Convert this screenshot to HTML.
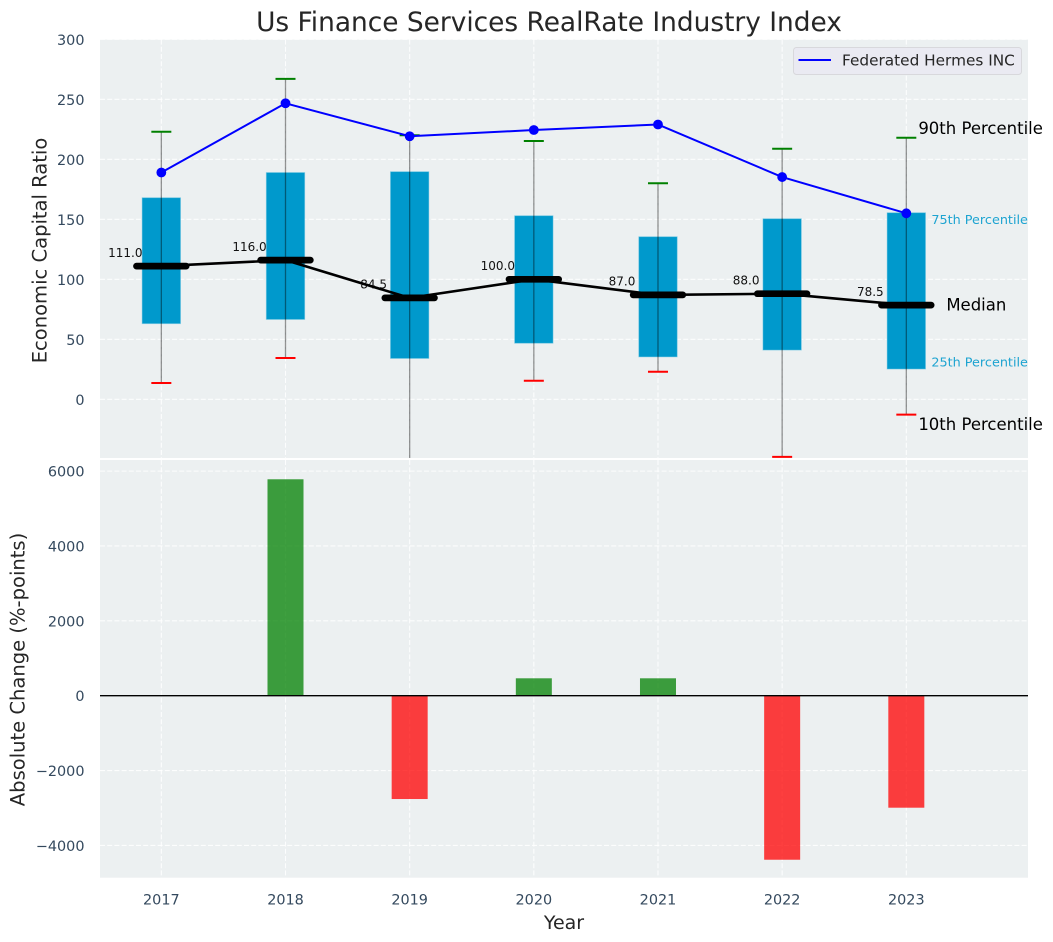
<!DOCTYPE html>
<html lang="en">
<head>
<meta charset="utf-8">
<title>Us Finance Services RealRate Industry Index</title>
<style>
html,body{margin:0;padding:0;background:#fff;}
#chart{display:block;width:1053px;height:942px;font-family:"DejaVu Sans","Liberation Sans",sans-serif;}
</style>
</head>
<body>
<svg id="chart" xmlns="http://www.w3.org/2000/svg" width="1053" height="942" viewBox="0 0 1053 942">
  <defs>
    <clipPath id="top-clip"><rect x="100" y="39.6" width="928" height="418.4"/></clipPath>
    <clipPath id="bottom-clip"><rect x="100" y="460" width="928" height="417.7"/></clipPath>
  </defs>
  <rect x="0" y="0" width="1053" height="942" fill="#ffffff"/>
  <rect x="100" y="39.6" width="928" height="418.4" fill="#ecf0f1"/>
  <rect x="100" y="460" width="928" height="417.7" fill="#ecf0f1"/>
  <g id="grid-layer"></g>
  <g id="top-layer" clip-path="url(#top-clip)"></g>
  <g id="bottom-layer" clip-path="url(#bottom-clip)"></g>
  <g id="tick-layer"></g>
  <g id="annotation-layer"></g>
  <text x="549" y="31" text-anchor="middle" font-size="26.4" fill="#262626">Us Finance Services RealRate Industry Index</text>
  <text transform="translate(46.5,250.5) rotate(-90)" text-anchor="middle" font-size="19.55" fill="#262626">Economic Capital Ratio</text>
  <text transform="translate(24.5,669.5) rotate(-90)" text-anchor="middle" font-size="19.55" fill="#262626">Absolute Change (%-points)</text>
  <text x="564" y="929" text-anchor="middle" font-size="19" fill="#262626">Year</text>
  <g>
    <rect x="793.5" y="47.5" width="228" height="27" rx="3" fill="#eaeaf2" stroke="#d8d8dc" stroke-width="1"/>
    <line x1="798.5" y1="60" x2="831" y2="60" stroke="#0000ff" stroke-width="2"/>
    <text x="842" y="65.5" font-size="15.3" fill="#262626">Federated Hermes INC</text>
  </g>
</svg>
<script>
const years = [2017, 2018, 2019, 2020, 2021, 2022, 2023];
const p90 = [223, 267, 220, 215.3, 180, 208.8, 218];
const q3 = [168, 189, 189.7, 153, 135.5, 150.5, 155.5];
const medians = [111, 116, 84.5, 100, 87, 88, 78.5];
const q1 = [63, 66.5, 34, 46.7, 35.3, 41, 25.2];
const p10 = [13.6, 34.4, -62, 15.5, 23, -48, -12.8];
const company = [189, 246.7, 219.2, 224.4, 229, 185.2, 155];
const changes = [null, 5782, -2760, 465, 465, -4382, -2992];
const yTicksTop = [0, 50, 100, 150, 200, 250, 300];
const yTicksBottom = [-4000, -2000, 0, 2000, 4000, 6000];

const NS = 'http://www.w3.org/2000/svg';
function linear(d0, d1, r0, r1) {
  return function (v) { return r0 + (v - d0) * (r1 - r0) / (d1 - d0); };
}
const xScale = linear(2016.506, 2023.98, 100, 1028);
const yTop = linear(-49, 300, 458.1, 39.3);
const yBottom = linear(-4862, 6297, 877.7, 460);

function mk(tag, props, parent) {
  const el = document.createElementNS(NS, tag);
  Object.keys(props).forEach(function (k) { el.setAttribute(k, props[k]); });
  parent.appendChild(el);
  return el;
}
const gridLayer = document.getElementById('grid-layer');
const topLayer = document.getElementById('top-layer');
const bottomLayer = document.getElementById('bottom-layer');
const tickLayer = document.getElementById('tick-layer');
const annLayer = document.getElementById('annotation-layer');
const gridStyle = { stroke: '#ffffff', 'stroke-width': 1.1, 'stroke-dasharray': '5 2.2', 'stroke-opacity': 0.85 };

years.forEach(function (yr) {
  const x = xScale(yr);
  const g1 = mk('line', Object.assign({ x1: x, x2: x, y1: 39.6, y2: 458 }, gridStyle), gridLayer);
  
  
  const g2 = mk('line', Object.assign({ x1: x, x2: x, y1: 460, y2: 877.7 }, gridStyle), gridLayer);
  
  
  const t = mk('text', { x: x, y: 904.5, 'text-anchor': 'middle', 'font-size': 14.4, fill: '#34495e' }, tickLayer);
  t.textContent = String(yr);
  
  
});
yTicksTop.forEach(function (v) {
  const y = yTop(v);
  const g = mk('line', Object.assign({ x1: 100, x2: 1028, y1: y, y2: y }, gridStyle), gridLayer);
  
  
  const t = mk('text', { x: 84.5, y: y + 5.5, 'text-anchor': 'end', 'font-size': 14.4, fill: '#34495e' }, tickLayer);
  t.textContent = String(v);
  
  
});
yTicksBottom.forEach(function (v) {
  const y = yBottom(v);
  const g = mk('line', Object.assign({ x1: 100, x2: 1028, y1: y, y2: y }, gridStyle), gridLayer);
  
  
  const t = mk('text', { x: 84.5, y: y + 5.5, 'text-anchor': 'end', 'font-size': 14.4, fill: '#34495e' }, tickLayer);
  t.textContent = String(v).replace('-', '\u2212');
  
  
});

const boxHalf = 0.155;
const medianHalf = 0.2;
const labelOffset = 0.29;
const capHalfPx = 10;

years.forEach(function (yr, i) {
  const x0 = xScale(yr - boxHalf);
  const x1 = xScale(yr + boxHalf);
  const box = mk('rect', { x: x0, y: yTop(q3[i]), width: x1 - x0, height: yTop(q1[i]) - yTop(q3[i]), fill: '#0099cc', stroke: '#7fcbe5', 'stroke-opacity': 0.6, 'stroke-width': 0.8 }, topLayer);
  
  
});
years.forEach(function (yr, i) {
  const x = xScale(yr);
  const w = mk('line', { x1: x, x2: x, y1: yTop(p90[i]), y2: yTop(p10[i]), stroke: '#000000', 'stroke-opacity': 0.42, 'stroke-width': 1.3 }, topLayer);
  
  
  const c1 = mk('line', { x1: x - capHalfPx, x2: x + capHalfPx, y1: yTop(p90[i]), y2: yTop(p90[i]), stroke: '#008000', 'stroke-width': 2 }, topLayer);
  
  
  const c2 = mk('line', { x1: x - capHalfPx, x2: x + capHalfPx, y1: yTop(p10[i]), y2: yTop(p10[i]), stroke: '#ff0000', 'stroke-width': 2 }, topLayer);
  
  
  const lbl = mk('text', { x: xScale(yr - labelOffset), y: yTop(medians[i]) - 9.2, 'text-anchor': 'middle', 'font-size': 12, fill: '#111111' }, topLayer);
  lbl.textContent = medians[i].toFixed(1);
  
  
});

const medianPath = mk('polyline', { points: years.map(function (yr, i) { return xScale(yr) + ',' + yTop(medians[i]); }).join(' '), fill: 'none', stroke: '#000000', 'stroke-width': 2.6, 'stroke-linejoin': 'round' }, topLayer);



years.forEach(function (yr, i) {
  const m = mk('line', { x1: xScale(yr - medianHalf), x2: xScale(yr + medianHalf), y1: yTop(medians[i]), y2: yTop(medians[i]), stroke: '#000000', 'stroke-width': 6.7, 'stroke-linecap': 'round' }, topLayer);
  
  
});

const companyPath = mk('polyline', { points: years.map(function (yr, i) { return xScale(yr) + ',' + yTop(company[i]); }).join(' '), fill: 'none', stroke: '#0000ff', 'stroke-width': 2 }, topLayer);



years.forEach(function (yr, i) {
  const p = mk('circle', { cx: xScale(yr), cy: yTop(company[i]), r: 4.9, fill: '#0000ff' }, topLayer);
  
  
});

const barHalf = 0.145;
years.forEach(function (yr, i) {
  if (changes[i] === null) { return; }
  const x0 = xScale(yr - barHalf);
  const x1 = xScale(yr + barHalf);
  const yA = yBottom(Math.max(changes[i], 0));
  const yB = yBottom(Math.min(changes[i], 0));
  const col = changes[i] >= 0 ? '#008000' : '#ff0000';
  const b = mk('rect', { x: x0, y: yA, width: x1 - x0, height: yB - yA, fill: col, 'fill-opacity': 0.75 }, bottomLayer);
  
  
});
const zero = mk('line', { x1: 100, x2: 1028, y1: yBottom(0), y2: yBottom(0), stroke: '#000000', 'stroke-width': 1.3 }, bottomLayer);



const last = years.length - 1;
const lastX = xScale(years[last]);
const a90 = mk('text', { x: lastX + 12, y: yTop(p90[last]) - 3.5, 'font-size': 16.5, fill: '#000000' }, annLayer);
a90.textContent = '90th Percentile';


const a75 = mk('text', { x: lastX + 25, y: yTop(q3[last]) + 11.5, 'font-size': 12.8, fill: '#0099cc', 'fill-opacity': 0.88 }, annLayer);
a75.textContent = '75th Percentile';


const aMed = mk('text', { x: lastX + 40, y: yTop(medians[last]) + 5.5, 'font-size': 16.5, fill: '#000000' }, annLayer);
aMed.textContent = 'Median';


const a25 = mk('text', { x: lastX + 25, y: yTop(q1[last]) - 2.5, 'font-size': 12.8, fill: '#0099cc', 'fill-opacity': 0.88 }, annLayer);
a25.textContent = '25th Percentile';


const a10 = mk('text', { x: lastX + 12, y: yTop(p10[last]) + 15.5, 'font-size': 16.5, fill: '#000000' }, annLayer);
a10.textContent = '10th Percentile';


</script>
</body>
</html>
